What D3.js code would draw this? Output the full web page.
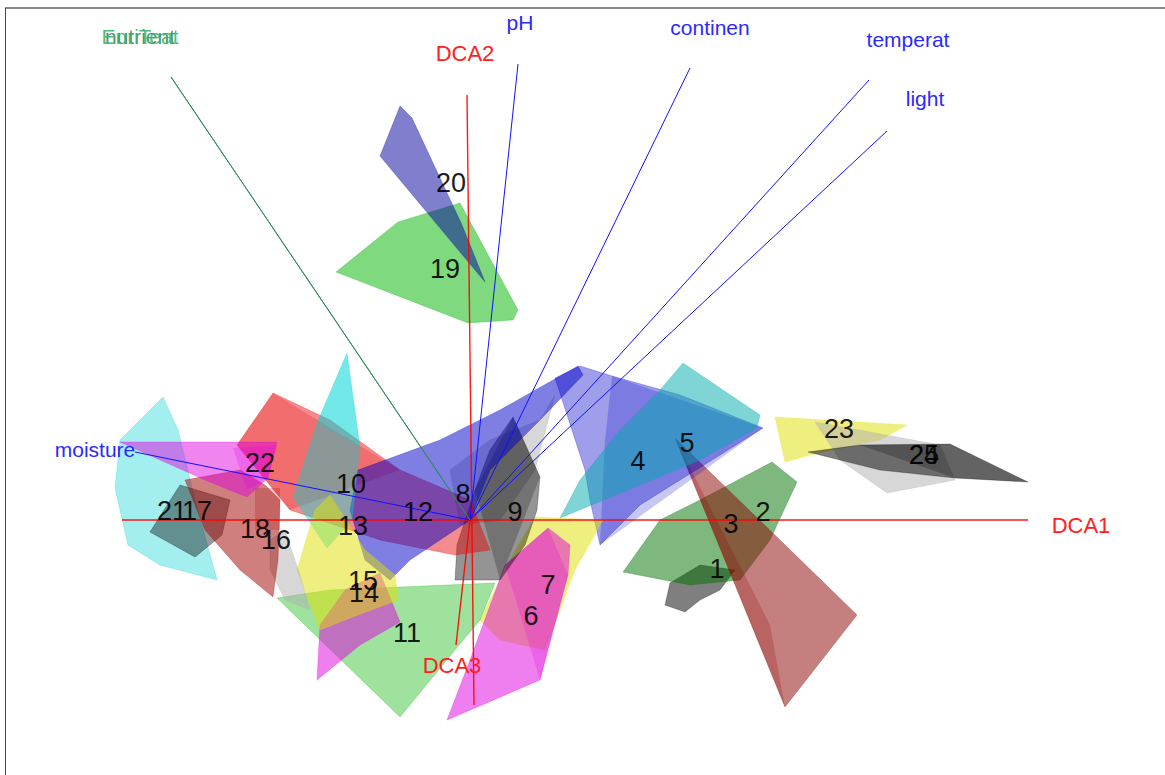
<!DOCTYPE html>
<html><head><meta charset="utf-8">
<script src="https://cdn.jsdelivr.net/npm/d3@7"></script>
<style>html,body{margin:0;padding:0;background:#fff}svg{display:block}</style>
</head><body>
<script>
// ---------------- DATA ----------------
const groupIds = ["1","2","3","4","5","6","7","8","9","10","11","12","13","14","15","16","17","18","19","20","21","22","23","24","25"];
// R default palette cycled over the groups
const palette = ["black","red","green3","blue","cyan","magenta","yellow","gray"];
// projected hull outlines (DCA1, DCA2 plane after rotation)
const hullOutlines = [
  [[2.00,-0.63],[2.30,-0.45],[2.65,-0.50],[2.50,-0.70],[2.30,-0.80],[2.15,-0.92],[1.95,-0.85]],
  [[2.05,0.82],[3.87,-0.95],[3.15,-1.87]],
  [[1.53,-0.52],[1.90,0.00],[2.30,0.20],[3.02,0.58],[3.27,0.38],[3.00,-0.20],[2.70,-0.60],[2.20,-0.65]],
  [[0.85,1.42],[1.10,1.54],[1.42,1.44],[2.10,1.25],[2.93,0.92],[2.50,0.65],[1.70,0.15],[1.30,-0.25],[1.20,0.20],[1.15,0.50]],
  [[2.13,1.57],[2.90,1.05],[2.87,0.92],[2.30,0.60],[1.70,0.35],[0.90,0.02],[1.10,0.40],[1.50,0.90],[1.90,1.30]],
  [[0.78,-0.08],[1.00,-0.25],[0.98,-0.55],[0.70,-1.60],[-0.23,-2.00],[0.00,-1.40],[0.35,-0.45]],
  [[0.65,0.03],[1.33,0.00],[1.05,-0.50],[0.75,-1.30],[0.30,-1.20],[0.10,-1.00],[0.40,-0.40]],
  [[-0.20,0.50],[0.20,0.80],[0.70,1.00],[0.85,1.25],[0.65,0.50],[0.30,0.00],[-0.10,-0.05]],
  [[0.43,1.03],[0.70,0.43],[0.67,0.10],[0.55,-0.25],[0.30,-0.60],[-0.15,-0.60],[-0.13,-0.25],[0.05,0.30],[0.20,0.70]],
  [[-1.97,1.27],[-1.40,1.00],[-0.70,0.50],[0.00,0.20],[0.20,-0.30],[-0.15,-0.35],[-0.90,-0.20],[-1.80,0.10],[-2.33,0.75]],
  [[-1.93,-0.78],[-1.40,-0.70],[0.25,-0.63],[0.10,-1.00],[-0.15,-1.30],[-0.70,-1.97]],
  [[-1.12,0.50],[-0.30,0.80],[0.30,1.10],[1.08,1.54],[1.13,1.45],[0.70,1.00],[0.20,0.50],[0.00,0.00],[-0.30,-0.20],[-0.60,-0.40],[-0.80,-0.60],[-1.05,-0.40],[-1.20,0.10]],
  [[-1.23,1.67],[-1.10,0.73],[-1.18,0.00],[-1.43,-0.28],[-1.77,0.23],[-1.53,0.97]],
  [[-1.53,-1.60],[-1.50,-1.05],[-1.25,-0.70],[-0.90,-0.53],[-0.70,-1.02],[-1.10,-1.25]],
  [[-1.73,-0.50],[-1.55,0.10],[-1.40,0.25],[-1.05,-0.30],[-0.75,-0.55],[-0.72,-0.80],[-1.25,-1.00],[-1.50,-1.10]],
  [[-2.00,-0.20],[-1.85,-0.10],[-1.70,-0.55],[-1.60,-0.90],[-1.85,-0.80],[-2.00,-0.50]],
  [[-3.20,-0.12],[-2.90,0.35],[-2.40,0.20],[-2.48,-0.15],[-2.75,-0.37]],
  [[-2.85,0.40],[-2.30,0.50],[-2.05,0.35],[-1.90,0.20],[-1.92,-0.40],[-1.97,-0.77],[-2.30,-0.50],[-2.65,-0.10]],
  [[-1.34,2.48],[-0.72,2.98],[-0.10,3.17],[0.48,2.10],[0.43,2.00],[-0.02,1.97]],
  [[-0.70,4.14],[-0.58,4.02],[-0.08,2.95],[0.15,2.38],[-0.90,3.64]],
  [[-3.07,1.23],[-2.92,0.90],[-2.75,0.20],[-2.53,-0.60],[-3.10,-0.45],[-3.42,-0.25],[-3.55,0.32],[-3.50,0.80]],
  [[-3.50,0.78],[-1.93,0.78],[-2.02,0.42],[-2.23,0.23],[-2.65,0.40]],
  [[3.05,1.03],[4.37,0.95],[4.10,0.80],[3.40,0.65],[3.15,0.58]],
  [[3.45,0.98],[4.00,0.88],[4.70,0.75],[4.85,0.40],[4.17,0.27],[3.70,0.60]],
  [[3.38,0.68],[3.90,0.75],[4.80,0.76],[5.58,0.38],[4.85,0.42],[4.10,0.50]]
];
// inner (overlapping) hull faces: [group, points]
const hullFaces = [
  [2, [[2.05,0.82],[3.00,-1.05],[3.15,-1.87]]],
  [4, [[1.42,1.44],[2.93,0.92],[1.30,-0.25],[1.35,0.80]]],
  [6, [[0.78,-0.08],[0.98,-0.55],[0.70,-1.60],[0.35,-0.45]]],
  [9, [[0.43,1.03],[0.70,0.43],[0.30,-0.60],[0.05,0.30]]],
  [10,[[-1.97,1.27],[-0.70,0.50],[-1.80,0.10],[-2.33,0.75]]],
  [13,[[-1.23,1.67],[-1.10,0.73],[-1.53,0.97]]],
  [18,[[-2.15,0.32],[-1.90,0.32],[-1.90,-0.10],[-2.15,-0.10]]],
  [22,[[-2.37,0.72],[-1.93,0.75],[-2.02,0.42],[-2.23,0.30]]],
  [25,[[3.90,0.75],[4.80,0.76],[5.58,0.38],[4.85,0.42]]]
];
// group label positions
const labelX = [2.47,2.93,2.61,1.68,2.17,0.61,0.78,-0.07,0.45,-1.19,-0.63,-0.52,-1.17,-1.06,-1.07,-1.94,-2.73,-2.15,-0.25,-0.19,-2.98,-2.10,3.69,4.54,4.54];
const labelY = [-0.48,0.09,-0.03,0.60,0.78,-0.95,-0.64,0.27,0.09,0.37,-1.12,0.09,-0.05,-0.72,-0.60,-0.19,0.10,-0.08,2.52,3.38,0.10,0.58,0.92,0.66,0.66];
// ordination axes
const axisNames = ["DCA1","DCA2","DCA3"];
const axisFrom  = [[-3.48,0],[-0.03,4.25],[0,0]];
const axisTo    = [[5.58,0],[0.04,-1.85],[-0.14,-1.25]];
const axisLabel = [[6.11,-0.05],[-0.05,4.67],[-0.18,-1.45]];
// environmental fitted vectors
const envNames = ["pH","continen","temperat","light","moisture"];
const envTip   = [[0.48,4.56],[2.20,4.52],[3.99,4.40],[4.17,3.89],[-3.35,0.68]];
const envLabel = [[0.50,4.97],[2.40,4.92],[4.38,4.80],[4.55,4.21],[-3.75,0.70]];
// second (green) vector set, two labels printed on top of each other
const facNames = ["nutrient","EnriTeat"];
const facTip   = [[-2.99,4.43],[-2.99,4.43]];
const facLabel = [[-3.30,4.83],[-3.30,4.83]];

// ---------------- STYLE ----------------
const W = 1165, H = 775;
const colorOf = {black:"#000000", red:"#e80000", green3:"#00b400", blue:"#0000c8",
                 cyan:"#00d4d4", magenta:"#e000e0", yellow:"#e0e000", gray:"#b0b0b0"};
const groupShade = {2:1.4, 3:1.3, 18:1.0, 20:0.7, 5:0.6};
const groupOpacity = {4:0.38, 6:0.5, 9:0.42, 10:0.45, 11:0.38, 13:0.42, 17:0.4, 21:0.36, 22:0.48, 24:0.5, 19:0.5};
const defaultOpacity = 0.5;
// drawing order of hulls (depth sorting of the 3D scene)
const drawOrder = [1,3,2,4,5,7,6,8,9,10,11,12,13,14,15,16,21,17,18,19,20,22,23,24,25];
const FONT = "'Liberation Sans', Arial, Helvetica, sans-serif";

const svg = d3.select("body").append("svg").attr("width", W).attr("height", H);
const x = d3.scaleLinear().domain([-4.7, 6.95]).range([0, W]);
const y = d3.scaleLinear().domain([-2.55, 5.2]).range([H, 0]);
const line = d3.line().x(d => x(d[0])).y(d => y(d[1]));

// frame
svg.append("line").attr("x1",5).attr("x2",W).attr("y1",8).attr("y2",8).attr("stroke","#888").attr("stroke-width",2);
svg.append("line").attr("x1",5.5).attr("x2",5.5).attr("y1",8).attr("y2",H).attr("stroke","#444").attr("stroke-width",1);

function fillOf(g){
  let c = d3.color(colorOf[palette[(g - 1) % 8]]);
  if (groupShade[g]) c = c.darker(groupShade[g]);
  return c.formatHex();
}

const hullG = svg.append("g");
drawOrder.forEach(g => {
  const pts = hullOutlines[g - 1];
  hullG.append("path").attr("d", line(pts) + "Z")
    .attr("fill", fillOf(g)).attr("fill-opacity", groupOpacity[g] || defaultOpacity)
    .attr("stroke", fillOf(g)).attr("stroke-opacity", 0.25).attr("stroke-width", 1);
  hullFaces.filter(f => f[0] === g).forEach(f => {
    hullG.append("path").attr("d", line(f[1]) + "Z")
      .attr("fill", fillOf(g)).attr("fill-opacity", 0.22).attr("stroke", "none");
  });
});

// axes
axisNames.forEach((n, i) => {
  svg.append("path").attr("d", line([axisFrom[i], axisTo[i]]))
    .attr("stroke", "#ff0000").attr("stroke-width", 1.4).attr("fill", "none").attr("stroke-opacity", 0.9);
  svg.append("text").attr("x", x(axisLabel[i][0])).attr("y", y(axisLabel[i][1]))
    .attr("text-anchor","middle").attr("dy","0.35em")
    .attr("font-family", FONT).attr("font-size", 22).attr("fill", "#ff2020").text(n);
});

// env vectors
envNames.forEach((n, i) => {
  svg.append("path").attr("d", line([[0,0], envTip[i]]))
    .attr("stroke", "#1010ff").attr("stroke-width", 1).attr("fill", "none");
  svg.append("text").attr("x", x(envLabel[i][0])).attr("y", y(envLabel[i][1]))
    .attr("text-anchor","middle").attr("dy","0.35em")
    .attr("font-family", FONT).attr("font-size", 21).attr("fill", "#2a2aff").text(n);
});
const facColors = ["#2e8b57", "#3cb371"];
facNames.forEach((n, i) => {
  svg.append("path").attr("d", line([[0,0], facTip[i]]))
    .attr("stroke", "#2e8b57").attr("stroke-width", 1).attr("fill", "none");
  svg.append("text").attr("x", x(facLabel[i][0])).attr("y", y(facLabel[i][1]))
    .attr("text-anchor","middle").attr("dy","0.35em")
    .attr("font-family", FONT).attr("font-size", 21).attr("fill", facColors[i]).attr("fill-opacity",0.9).text(n);
});

// group labels
groupIds.forEach((id, i) => {
  svg.append("text").attr("x", x(labelX[i])).attr("y", y(labelY[i]))
    .attr("text-anchor","middle").attr("dy","0.36em")
    .attr("font-family", FONT).attr("font-size", 27).attr("fill", "#000").attr("fill-opacity", 0.9).text(id);
});
</script>
</body></html>
